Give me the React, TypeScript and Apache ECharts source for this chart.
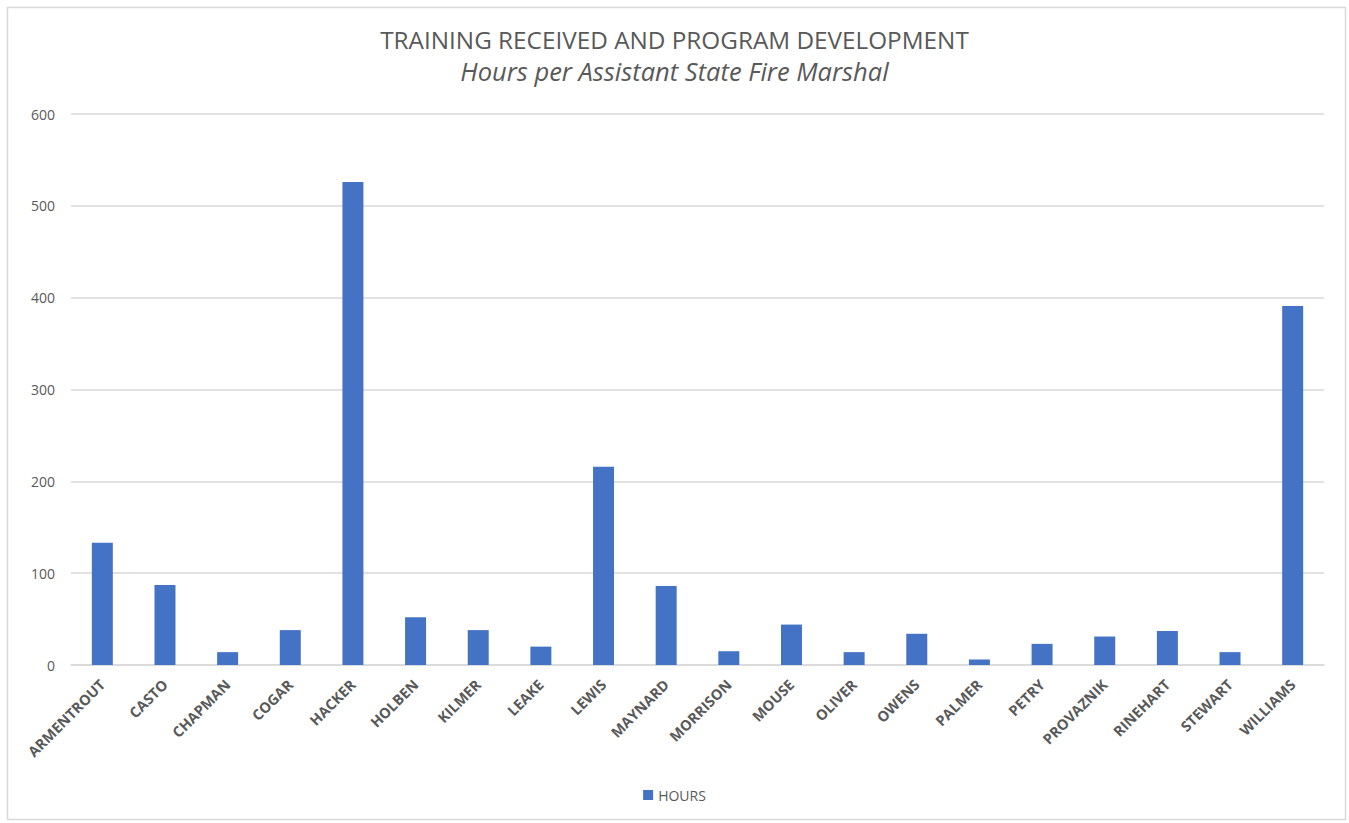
import React, { useEffect, useRef } from "react";
import * as echarts from "echarts";

const categories = [
  "ARMENTROUT", "CASTO", "CHAPMAN", "COGAR", "HACKER", "HOLBEN", "KILMER", "LEAKE",
  "LEWIS", "MAYNARD", "MORRISON", "MOUSE", "OLIVER", "OWENS", "PALMER", "PETRY",
  "PROVAZNIK", "RINEHART", "STEWART", "WILLIAMS",
];
const hours = [133, 87, 14, 38, 526, 52, 38, 20, 216, 86, 15, 44, 14, 34, 6, 23, 31, 37, 14, 391];
const seriesName = "HOURS";
const titleText = "TRAINING RECEIVED AND PROGRAM DEVELOPMENT";
const subtitleText = "Hours per Assistant State Fire Marshal";

export default function App() {
  const ref = useRef<HTMLDivElement>(null);
  useEffect(() => {
    if (!ref.current) return;
    const chart = echarts.init(ref.current, undefined, { renderer: "svg" });
    chart.setOption({
      animation: false,
      backgroundColor: "#ffffff",
      title: {
        text: titleText,
        subtext: subtitleText,
        left: "center",
        top: 22,
        itemGap: 7,
        textStyle: {
          fontFamily: "Open Sans",
          fontSize: 24.3,
          fontWeight: "normal",
          color: "#595959",
        },
        subtextStyle: {
          fontFamily: "Open Sans",
          fontSize: 25.5,
          fontStyle: "italic",
          color: "#595959",
        },
      },
      legend: {
        bottom: 16,
        left: "center",
        itemWidth: 10,
        itemHeight: 10,
        itemGap: 5,
        icon: "rect",
        textStyle: { fontFamily: "Open Sans", fontSize: 14, color: "#595959" },
        data: [seriesName],
      },
      graphic: [
        {
          type: "rect",
          shape: { x: 7.5, y: 7.5, width: 1338, height: 812 },
          style: { fill: "none", stroke: "#d9d9d9", lineWidth: 1.5 },
          silent: true,
        },
      ],
      grid: { left: 71, right: 25, top: 114, bottom: 158 },
      xAxis: {
        type: "category",
        data: categories,
        axisLine: { show: true, lineStyle: { color: "#d9d9d9", width: 1.5 } },
        axisTick: { show: false },
        axisLabel: {
          rotate: 45,
          interval: 0,
          margin: 17,
          fontFamily: "Open Sans",
          fontWeight: "bold",
          fontSize: 14.5,
          color: "#595959",
        },
      },
      yAxis: {
        type: "value",
        min: 0,
        max: 600,
        interval: 100,
        axisLine: { show: false },
        axisTick: { show: false },
        splitLine: { lineStyle: { color: "#d9d9d9", width: 1.5 } },
        axisLabel: {
          margin: 16,
          fontFamily: "Open Sans",
          fontSize: 14,
          color: "#595959",
        },
      },
      series: [
        {
          name: seriesName,
          type: "bar",
          data: hours,
          barWidth: "33.5%",
          itemStyle: { color: "#4472c4" },
        },
      ],
    });
    return () => chart.dispose();
  }, []);
  return (
    <div
      ref={ref}
      style={{ position: "absolute", left: 0, top: 0, width: 1349, height: 823 }}
    />
  );
}
